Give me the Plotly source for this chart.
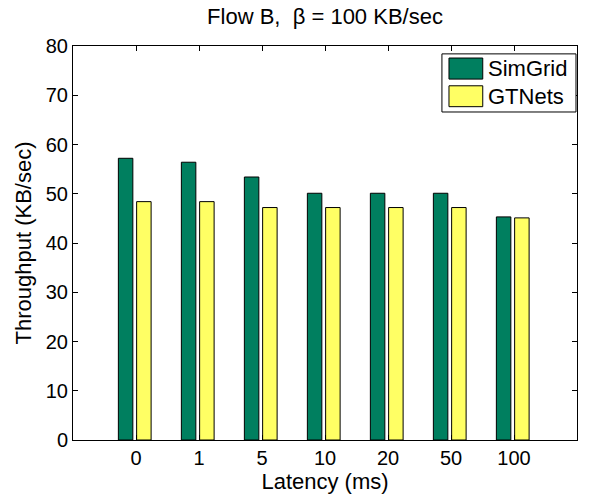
import plotly.graph_objects as go

categories = ["0", "1", "5", "10", "20", "50", "100"]
simgrid = [57.2, 56.4, 53.4, 50.1, 50.1, 50.1, 45.3]
gtnets = [48.4, 48.4, 47.2, 47.2, 47.2, 47.2, 45.1]
y_ticks = [0, 10, 20, 30, 40, 50, 60, 70, 80]
series_names = ["SimGrid", "GTNets"]
series_colors = ["rgb(0,127,95)", "rgb(255,255,100)"]

xs = list(range(len(categories)))
font = "Liberation Sans, Arial, sans-serif"

W, H = 592, 496
L, R, T, B = 73, 15, 46, 56

fig = go.Figure()
fig.add_trace(go.Bar(x=xs, y=simgrid, name=series_names[0], width=0.23, offset=-0.28,
                     marker=dict(color=series_colors[0], line=dict(color="black", width=1))))
fig.add_trace(go.Bar(x=xs, y=gtnets, name=series_names[1], width=0.23, offset=0.01,
                     marker=dict(color=series_colors[1], line=dict(color="black", width=1))))

# MATLAB-style legend box with large swatches
fig.add_shape(type="rect", xref="paper", yref="paper", x0=0.732, x1=0.998, y0=0.8325, y1=0.980,
              line=dict(color="black", width=1), fillcolor="white", layer="above")
sw_rows = [(0.916, 0.9695, 0.942), (0.846, 0.899, 0.873)]
for (y0, y1, yt), nm, col in zip(sw_rows, series_names, series_colors):
    fig.add_shape(type="rect", xref="paper", yref="paper", x0=0.746, x1=0.813, y0=y0, y1=y1,
                  line=dict(color="black", width=1), fillcolor=col, layer="above")
    fig.add_annotation(xref="paper", yref="paper", x=0.819, y=yt, xanchor="left", yanchor="middle",
                       text=nm, showarrow=False, font=dict(family=font, size=22, color="black"))

axis_common = dict(showline=True, linecolor="black", linewidth=1, mirror="allticks",
                   ticks="inside", ticklen=5, tickcolor="black", showgrid=False, zeroline=False,
                   automargin=False,
                   tickfont=dict(family=font, size=20, color="black"))

fig.update_layout(
    width=W, height=H,
    margin=dict(l=L, r=R, t=T, b=B),
    paper_bgcolor="white", plot_bgcolor="white",
    title=dict(text="Flow B,  β = 100 KB/sec", xref="paper", x=0.5, xanchor="center",
               y=1 - 9 / H, yanchor="top",
               font=dict(family=font, size=22, color="black")),
    barmode="overlay",
    showlegend=False,
    xaxis=dict(range=[-1, 7], tickmode="array", tickvals=xs, ticktext=categories,
               title=dict(text="Latency (ms)", font=dict(family=font, size=22, color="black"), standoff=0),
               **axis_common),
    yaxis=dict(range=[0, 80], tickmode="array", tickvals=y_ticks,
               title=dict(text="Throughput (KB/sec)", font=dict(family=font, size=22, color="black"), standoff=8),
               **axis_common),
)

fig.write_html("out.html", config={"displayModeBar": False},
               post_script="document.body.style.margin='0px';")
